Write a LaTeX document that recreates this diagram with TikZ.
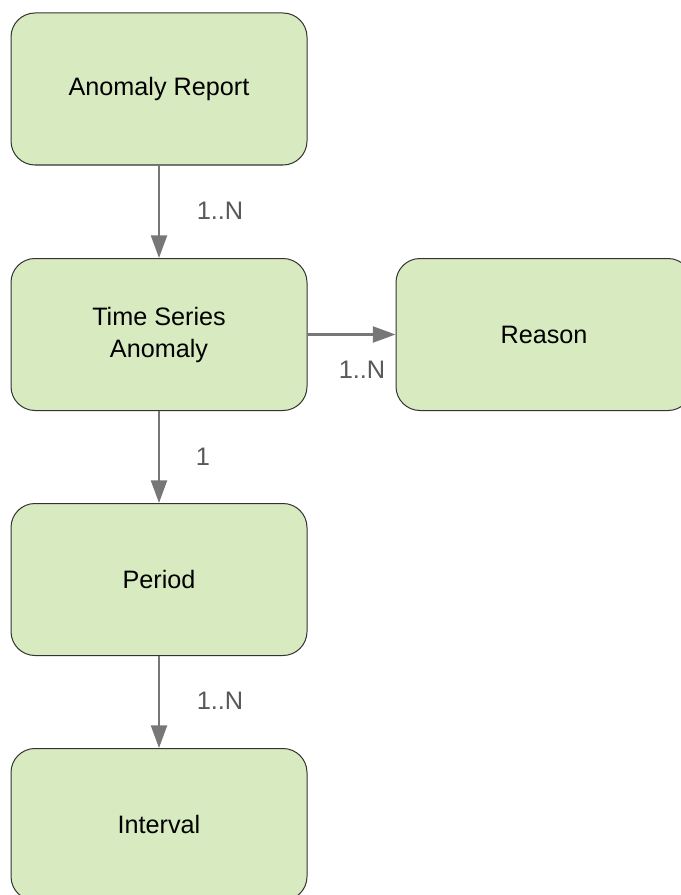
\documentclass[tikz,border=0pt]{standalone}
\usepackage{fontspec}
\setmainfont{Liberation Sans}
\usetikzlibrary{arrows.meta}
\definecolor{boxfill}{HTML}{D8EBC0}
\definecolor{boxdraw}{HTML}{333333}
\definecolor{linkcol}{HTML}{777777}
\definecolor{labcol}{HTML}{595959}
\begin{document}
\begin{tikzpicture}[x=0.75pt,y=-0.75pt,
  entity/.style={draw=boxdraw,fill=boxfill,line width=0.75pt,rounded corners=18pt,
    minimum width=222pt,minimum height=114pt,inner sep=0pt,align=center,
    font=\fontsize{18.9}{24}\selectfont},
  link/.style={draw=linkcol,line width=1.7pt,-{Triangle[length=17pt,width=12pt]}},
  card/.style={text=labcol,font=\fontsize{19}{22}\selectfont,inner sep=0pt}]
\useasboundingbox (0,0) rectangle (681,895);
\node[entity] (report) at (159,89) {Anomaly Report};
\node[entity] (tsa) at (159,334.5) {Time Series\\Anomaly};
\node[entity] (reason) at (544,334.5) {Reason};
\node[entity] (period) at (159,579.5) {Period};
\node[entity] (interval) at (159,824.5) {Interval};
\draw[link] (report.south) -- (tsa.north);
\draw[link] (tsa.east) -- (reason.west);
\draw[link] (tsa.south) -- (period.north);
\draw[link] (period.south) -- (interval.north);
\node[card] (l1) at (220,211) {1..N};
\node[card] (l2) at (362,370) {1..N};
\node[card] (l3) at (203,457) {1};
\node[card] (l4) at (220,701) {1..N};
\end{tikzpicture}
\end{document}
